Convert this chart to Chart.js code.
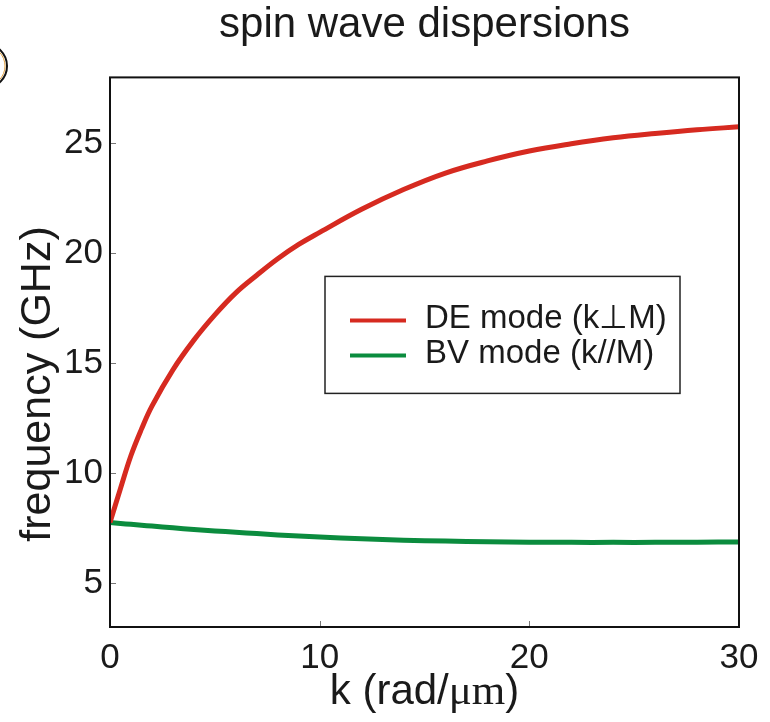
<html>
  <head>
    <title>spin wave dispersions</title>
    <script src="https://cdn.jsdelivr.net/npm/chart.js@4.4.0/dist/chart.umd.min.js"></script>
    <style>
      html, body { margin: 0; padding: 0; background: #fff; }
      #wrap { width: 770px; height: 722px; }
    </style>
  </head>
  <body>
    <div id="wrap"><canvas id="chart" width="770" height="722"></canvas></div>

    <script>
      // wave number k (rad/um)
      var kVals = [0, 0.5, 1, 1.5, 2, 3, 4, 5, 6, 7, 8, 9, 10, 12, 14, 16, 18, 20, 22, 24, 26, 28, 30];
      // DE mode (k perp M), GHz
      var deVals = [7.75, 9.3, 10.8, 12.0, 13.05, 14.7, 16.05, 17.2, 18.2, 19.0, 19.75, 20.4, 20.95,
                    22.0, 22.9, 23.65, 24.2, 24.65, 24.98, 25.25, 25.45, 25.62, 25.75];
      // BV mode (k // M), GHz
      var bvVals = [7.75, 7.71, 7.67, 7.63, 7.59, 7.51, 7.44, 7.37, 7.31, 7.25, 7.19, 7.14, 7.09,
                    7.01, 6.95, 6.91, 6.88, 6.86, 6.85, 6.85, 6.85, 6.86, 6.87];
      var seriesNames = ['DE mode (k\u22a5M)', 'BV mode (k//M)'];
      var seriesColors = ['#d62a20', '#0b8c3e'];
      var xTicks = [0, 10, 20, 30];
      var yTicks = [5, 10, 15, 20, 25];
      var xTitle = ['k (rad/', '\u03bcm', ')'];
      var yTitle = 'frequency (GHz)';

      var FONT = "'Liberation Sans', Arial, Helvetica, sans-serif";
      var SERIF = "'Liberation Serif', 'Times New Roman', serif";

      function toPoints(ys) {
        var pts = [];
        for (var i = 0; i < kVals.length; i++) pts.push({x: kVals[i], y: ys[i]});
        return pts;
      }

      // frame, inward ticks, axis titles, legend box and the cut-off panel mark
      var decor = {
        id: 'decor',
        afterDatasetsDraw: function(chart) {
          var ctx = chart.ctx, ca = chart.chartArea;
          var xs = chart.scales.x, ys = chart.scales.y;
          ctx.save();
          // inward ticks
          ctx.strokeStyle = '#777';
          ctx.lineWidth = 1;
          yTicks.forEach(function(v) {
            var p = Math.round(ys.getPixelForValue(v)) + 0.5;
            ctx.beginPath(); ctx.moveTo(ca.left, p); ctx.lineTo(ca.left + 6, p); ctx.stroke();
          });
          xTicks.forEach(function(v) {
            var p = Math.round(xs.getPixelForValue(v)) + 0.5;
            ctx.beginPath(); ctx.moveTo(p, ca.bottom); ctx.lineTo(p, ca.bottom - 6); ctx.stroke();
          });
          // frame
          ctx.strokeStyle = '#111';
          ctx.lineWidth = 2;
          ctx.strokeRect(ca.left, ca.top, ca.right - ca.left, ca.bottom - ca.top);

          // x title, with the unit in a serif face
          ctx.fillStyle = '#1a1a1a';
          ctx.textBaseline = 'alphabetic';
          ctx.textAlign = 'left';
          var fonts = ['42px ' + FONT, '43px ' + SERIF, '42px ' + FONT];
          var total = 0, widths = [];
          for (var j = 0; j < xTitle.length; j++) {
            ctx.font = fonts[j];
            widths.push(ctx.measureText(xTitle[j]).width);
            total += widths[j];
          }
          var tx = (ca.left + ca.right) / 2 - total / 2;
          for (j = 0; j < xTitle.length; j++) {
            ctx.font = fonts[j];
            ctx.fillText(xTitle[j], tx, 704);
            tx += widths[j];
          }

          // y title
          ctx.save();
          ctx.translate(38, 384);
          ctx.rotate(-Math.PI / 2);
          ctx.font = '43px ' + FONT;
          ctx.textAlign = 'center';
          ctx.textBaseline = 'middle';
          ctx.fillText(yTitle, 0, 0);
          ctx.restore();

          // legend
          var lx = ca.left + 215, ly = ca.top + 199, lw = 355, lh = 117;
          ctx.fillStyle = '#fff';
          ctx.fillRect(lx, ly, lw, lh);
          ctx.strokeStyle = '#222';
          ctx.lineWidth = 1.5;
          ctx.strokeRect(lx, ly, lw, lh);
          ctx.font = '33px ' + FONT;
          ctx.textBaseline = 'middle';
          ctx.textAlign = 'left';
          for (var i = 0; i < seriesNames.length; i++) {
            var yy = ly + 43 + i * 35;
            ctx.strokeStyle = seriesColors[i];
            ctx.lineWidth = 4;
            ctx.beginPath(); ctx.moveTo(lx + 25, yy + 1); ctx.lineTo(lx + 81, yy + 1); ctx.stroke();
            ctx.fillStyle = '#1a1a1a';
            ctx.fillText(seriesNames[i], lx + 100, yy);
          }

          // right edge of a panel label circle, cut off by the page border
          ctx.strokeStyle = '#111';
          ctx.lineWidth = 2;
          ctx.beginPath(); ctx.arc(-15, 66, 22, -Math.PI / 2, Math.PI / 2); ctx.stroke();
          ctx.strokeStyle = '#e0a040';
          ctx.lineWidth = 1;
          ctx.beginPath(); ctx.arc(-15, 66, 20, -Math.PI / 2, Math.PI / 2); ctx.stroke();
          ctx.restore();
        }
      };

      new Chart(document.getElementById('chart'), {
        type: 'line',
        data: {
          datasets: [
            {
              label: seriesNames[0],
              data: toPoints(deVals),
              borderColor: seriesColors[0],
              borderWidth: 5,
              pointRadius: 0,
              tension: 0.4,
              fill: false
            },
            {
              label: seriesNames[1],
              data: toPoints(bvVals),
              borderColor: seriesColors[1],
              borderWidth: 5,
              pointRadius: 0,
              tension: 0.4,
              fill: false
            }
          ]
        },
        options: {
          responsive: false,
          animation: false,
          layout: { padding: { left: 0, right: 31, top: 0, bottom: 0 } },
          plugins: {
            legend: { display: false },
            tooltip: { enabled: false },
            title: {
              display: true,
              fullSize: false,
              text: 'spin wave dispersions',
              color: '#1a1a1a',
              font: { family: FONT, size: 42, weight: 'normal' },
              padding: { top: 0, bottom: 27 }
            }
          },
          scales: {
            x: {
              type: 'linear',
              min: 0,
              max: 30,
              afterBuildTicks: function(s) { s.ticks = xTicks.map(function(v) { return {value: v}; }); },
              afterFit: function(s) { s.height = 95; },
              grid: { display: false, drawTicks: false },
              border: { display: false },
              ticks: { color: '#1a1a1a', font: { family: FONT, size: 35 }, padding: 10, maxRotation: 0 },
              title: { display: false }
            },
            y: {
              type: 'linear',
              min: 3,
              max: 28,
              afterBuildTicks: function(s) { s.ticks = yTicks.map(function(v) { return {value: v}; }); },
              afterFit: function(s) { s.width = 110; },
              grid: { display: false, drawTicks: false },
              border: { display: false },
              ticks: { color: '#1a1a1a', font: { family: FONT, size: 35 }, padding: 7 },
              title: { display: false }
            }
          }
        },
        plugins: [decor]
      });
    </script>
  </body>
</html>
